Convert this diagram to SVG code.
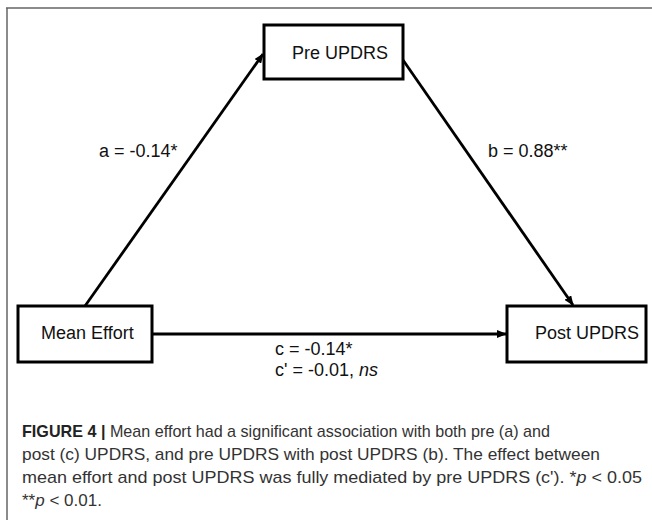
<svg xmlns="http://www.w3.org/2000/svg" width="652" height="523" viewBox="0 0 652 523">
<style>
.box{fill:#fff;stroke:#000;stroke-width:3}
.nt{font-family:"Liberation Sans",Arial,sans-serif;font-size:18px;fill:#111}
.lb{font-family:"Liberation Sans",Arial,sans-serif;font-size:18px;fill:#111}
.edge{stroke:#000;stroke-width:2.8;fill:none;marker-end:url(#ah)}
.cap{font-family:"Liberation Sans",Arial,sans-serif;font-size:17px;fill:#333}
.frame{stroke:#666;stroke-width:1.5;fill:none}
</style>
<defs>
<marker id="ah" viewBox="0 0 10 8" refX="9" refY="4" markerWidth="10" markerHeight="8" markerUnits="userSpaceOnUse" orient="auto">
<path d="M0,0 L10,4 L0,8 z" fill="#000"/>
</marker>
</defs>
<rect width="652" height="523" fill="#fff"/>
<path class="frame" d="M6,8 H652 M7,8 V520"/>
<g id="connectors">
<line class="edge" x1="85" y1="306" x2="263" y2="54"/>
<line class="edge" x1="403" y1="60" x2="573" y2="305"/>
<line class="edge" x1="152" y1="334" x2="506" y2="334"/>
<text class="lb" x="99" y="157">a = -0.14*</text>
<text class="lb" x="488" y="157">b = 0.88**</text>
<text class="lb" x="275" y="355">c = -0.14*</text>
<text class="lb" x="275" y="376">c' = -0.01, <tspan font-style="italic">ns</tspan></text>
</g>
<g id="pre">
<rect class="box" x="264" y="25" width="139" height="54"/>
<text class="nt" x="292" y="59">Pre UPDRS</text>
</g>
<g id="mean">
<rect class="box" x="18" y="306" width="134" height="56"/>
<text class="nt" x="41" y="339">Mean Effort</text>
</g>
<g id="post">
<rect class="box" x="507" y="306" width="139" height="56"/>
<text class="nt" x="535" y="339">Post UPDRS</text>
</g>
<g id="caption">
<text class="cap" x="22" y="437" textLength="528" lengthAdjust="spacingAndGlyphs"><tspan font-weight="bold" fill="#222">FIGURE 4 |</tspan> Mean effort had a significant association with both pre (a) and</text>
<text class="cap" x="22" y="460" textLength="578" lengthAdjust="spacingAndGlyphs">post (c) UPDRS, and pre UPDRS with post UPDRS (b). The effect between</text>
<text class="cap" x="22" y="483" textLength="620" lengthAdjust="spacingAndGlyphs">mean effort and post UPDRS was fully mediated by pre UPDRS (c'). *<tspan font-style="italic">p</tspan> &lt; 0.05</text>
<text class="cap" x="22" y="506">**<tspan font-style="italic">p</tspan> &lt; 0.01.</text>
</g>
</svg>
